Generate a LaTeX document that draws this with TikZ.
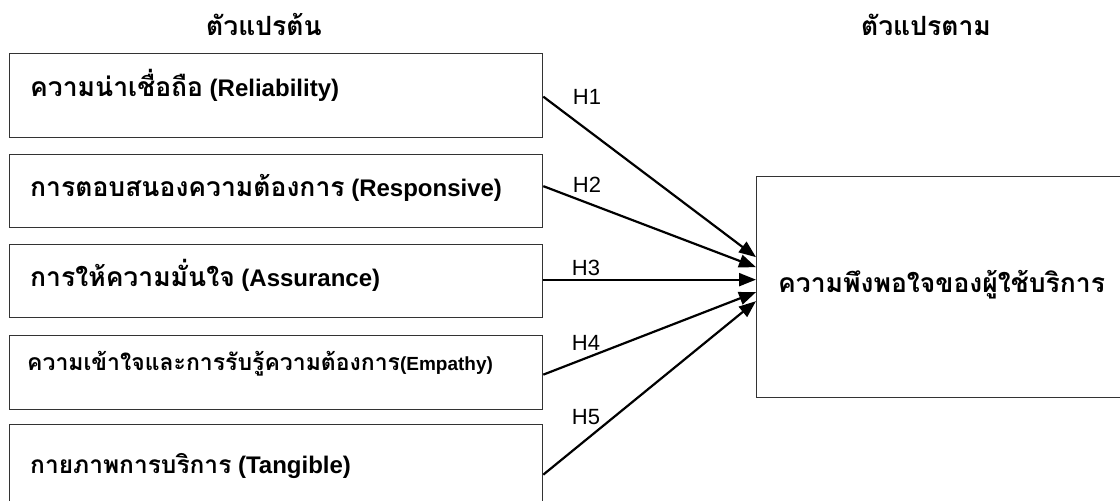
\documentclass[tikz,border=0pt]{standalone}
\usepackage{fontspec}
\setmainfont{Liberation Sans}
\newfontfamily\thai[Script=Thai]{Loma}
\usetikzlibrary{arrows.meta}
\newcommand{\tb}[2][26.5]{{\thai\bfseries\fontsize{#1}{30}\selectfont #2}}
\newcommand{\lb}[1]{{\bfseries #1}}
\begin{document}
\begin{tikzpicture}[x=1pt,y=-1pt,
  box/.style={draw=black!80, line width=1.3pt, inner sep=0pt, anchor=north west},
  arr/.style={line width=2.2pt, -{Triangle[length=17pt,width=13pt]}},
  lbl/.style={font=\fontsize{22}{26}\selectfont, inner sep=0pt},
  txt/.style={anchor=base west, inner sep=0pt, font=\fontsize{24}{28}\selectfont},
  ttl/.style={anchor=base, inner sep=0pt, font=\thai\bfseries\fontsize{26.5}{30}\selectfont}]
\useasboundingbox (0,0) rectangle (1120,501);
\clip (0,0) rectangle (1120,501);
% titles
\node[ttl] (ind) at (264,35) {ตัวแปรต้น};
\node[ttl] (dep) at (926,35) {ตัวแปรตาม};
% left boxes
\node[box, minimum width=533pt, minimum height=84pt] (b1) at (9,53) {};
\node[box, minimum width=533pt, minimum height=73pt] (b2) at (9,154) {};
\node[box, minimum width=533pt, minimum height=73pt] (b3) at (9,244) {};
\node[box, minimum width=533pt, minimum height=74pt] (b4) at (9,335) {};
\node[box, minimum width=533pt, minimum height=100pt] (b5) at (9,424) {};
% right box
\node[box, minimum width=370pt, minimum height=221pt] (rb) at (756,176) {};
% texts
\node[txt] (t1) at (30,96) {\tb{ความน่าเชื่อถือ} \lb{(Reliability)}};
\node[txt] (t2) at (30,196) {\tb{การตอบสนองความต้องการ} \lb{(Responsive)}};
\node[txt] (t3) at (30,286) {\tb{การให้ความมั่นใจ} \lb{(Assurance)}};
\node[txt, font=\fontsize{19}{22}\selectfont] (t4) at (27,370) {\tb[23]{ความเข้าใจและการรับรู้ความต้องการ}\lb{(Empathy)}};
\node[txt] (t5) at (30,473) {\tb[24.5]{กายภาพการบริการ} \lb{(Tangible)}};
\node[txt] (tr) at (778,292) {\tb{ความพึงพอใจของผู้ใช้บริการ}};
% arrows
\draw[arr] ([yshift=-1pt]b1.east) -- ([yshift=30pt]rb.west);
\draw[arr] ([yshift=5pt]b2.east) -- ([yshift=20pt]rb.west);
\draw[arr] ([yshift=1.5pt]b3.east) -- ([yshift=7.5pt]rb.west);
\draw[arr] ([yshift=-2pt]b4.east) -- ([yshift=-5pt]rb.west);
\draw[arr] ([yshift=0pt]b5.east) -- ([yshift=-14pt]rb.west);
% labels
\node[lbl] (l1) at (587,97) {H1};
\node[lbl] (l2) at (587,185) {H2};
\node[lbl] (l3) at (586,268) {H3};
\node[lbl] (l4) at (586,343) {H4};
\node[lbl] (l5) at (586,417) {H5};
\end{tikzpicture}
\end{document}
